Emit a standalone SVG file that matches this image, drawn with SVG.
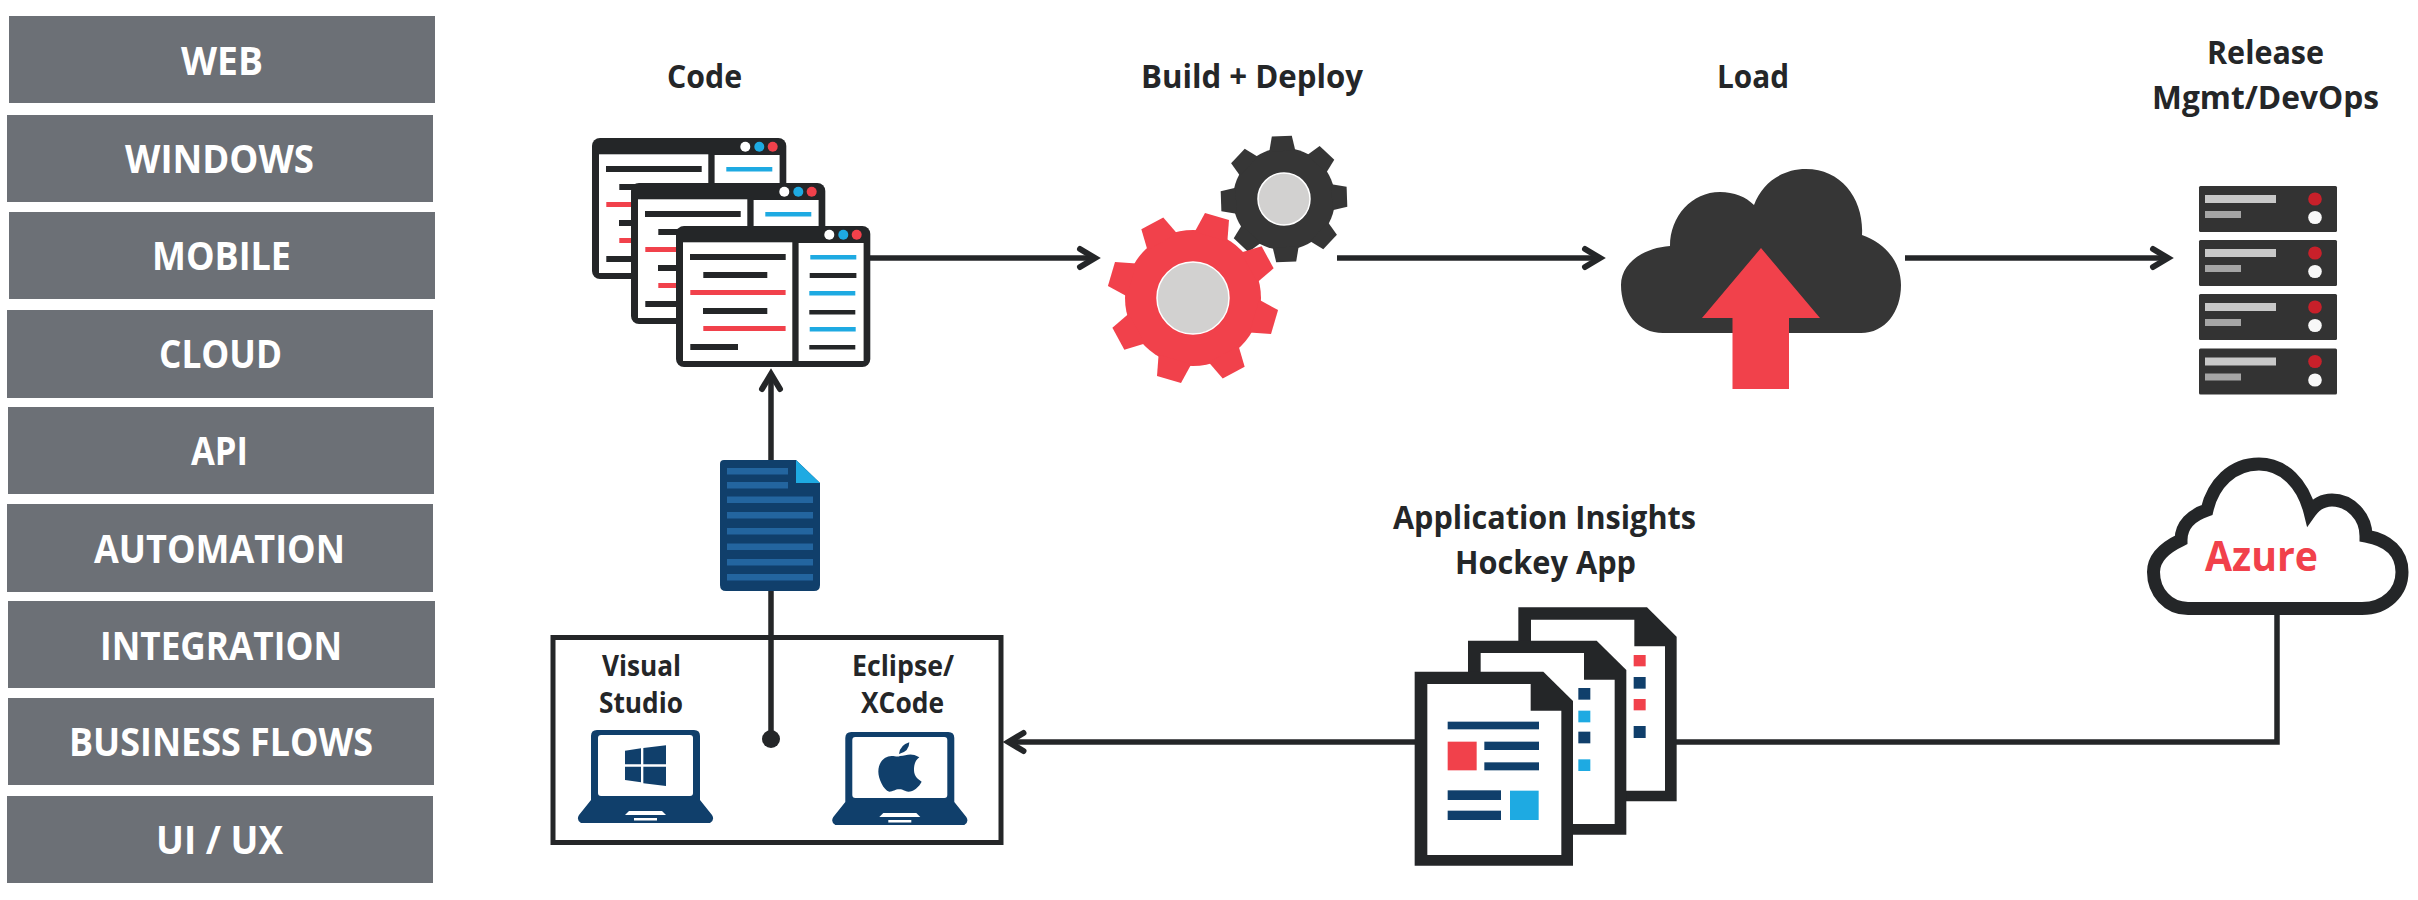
<svg xmlns="http://www.w3.org/2000/svg" width="2418" height="900" viewBox="0 0 2418 900">
<style>
text{font-family:"Open Sans","Noto Sans","Liberation Sans",sans-serif;font-weight:700;fill:#242628}
.tab rect{fill:#6c7076}
.tab text{fill:#fff;font-size:39px}
.head{font-size:32px}
.ide{font-size:28px}
.con{fill:none;stroke:#242628;stroke-width:5.5}
.gd{fill:#363636}
.gr{fill:#f1414b}
.hub{fill:#d2d1d0;stroke:#fff;stroke-width:1.5}
.dk{fill:#242628}
.wh{fill:#fff}
.bk{fill:#242628}
.rd{fill:#f1414b}
.bl{fill:#1eaae2}
.nv{fill:#103f6b}
.st{fill:#23659f}
</style>
<defs>
<marker id="chev" markerUnits="userSpaceOnUse" viewBox="-30 -16 40 32" markerWidth="40" markerHeight="32" refX="0" refY="0" orient="auto" overflow="visible">
<path d="M-15 -9 L0 0 L-15 9" fill="none" stroke="#242628" stroke-width="6" stroke-linecap="round"/>
</marker>
<g id="win">
<rect width="194.3" height="141" rx="8" class="dk"/>
<rect x="7" y="16.3" width="109.3" height="118.7" class="wh"/>
<rect x="122.6" y="17" width="65" height="118" class="wh"/>
<circle cx="153.3" cy="8.7" r="5" class="wh"/><circle cx="167.3" cy="8.7" r="5" class="bl"/><circle cx="180.7" cy="8.7" r="5" class="rd"/>
<rect x="14" y="28" width="95.7" height="6" class="bk"/>
<rect x="27.3" y="46" width="64" height="6" class="bk"/>
<rect x="14.3" y="64" width="95.3" height="5" class="rd"/>
<rect x="27" y="82" width="64.3" height="6" class="bk"/>
<rect x="27.3" y="100" width="82.3" height="5" class="rd"/>
<rect x="14.3" y="118" width="47.7" height="6" class="bk"/>
<rect x="134.3" y="29" width="46" height="4.5" class="bl"/>
<rect x="133.7" y="47" width="46.7" height="5" class="bk"/>
<rect x="133.3" y="65" width="46" height="4.5" class="bl"/>
<rect x="133.3" y="84" width="46" height="4.5" class="bk"/>
<rect x="133.7" y="101" width="46" height="4.5" class="bl"/>
<rect x="133.3" y="119" width="46" height="4.5" class="bk"/>
</g>
<polygon id="rt" points="-17,-64 -12.5,-85 12.5,-85 17,-64" class="gr"/>
<polygon id="dt" points="-13,-48 -10,-63 10,-63 13,-48" class="gd"/>
<g id="srv">
<rect width="138" height="46" rx="1.5" fill="#333"/>
<rect x="6" y="9" width="71" height="8" fill="#c8c8c8"/>
<rect x="6" y="25" width="36" height="7" fill="#a5a5a5"/>
<ellipse cx="116" cy="13" rx="6.8" ry="6.6" fill="#c8202a"/>
<ellipse cx="116" cy="31.5" rx="6.8" ry="6.6" fill="#f8f8f8"/>
</g>
<g id="lap">
<path d="M591 736Q591 730 597 730L694 730Q700 730 700 736L700 800L712 815Q715 820 710 823L581 823Q576 820 579 815L591 800Z" class="nv"/>
<rect x="598" y="735" width="95" height="61" rx="3" class="wh"/>
<polygon points="629,811 662,811 666,815 625,815" class="wh"/>
<rect x="634" y="818" width="23" height="2.5" class="wh"/>
</g>
<g id="doc">
<polygon points="44,215 430,215 519,303 519,797 44,797" class="dk"/>
<polygon points="82,252 392,252 392,332 484,332 484,765 82,765" class="wh"/>
</g>
</defs>

<g id="connectors">
<path class="con" d="M771 740V374" marker-end="url(#chev)"/>
<path class="con" d="M870 258H1095" marker-end="url(#chev)"/>
<path class="con" d="M1337 258H1600" marker-end="url(#chev)"/>
<path class="con" d="M1905 258H2168" marker-end="url(#chev)"/>
<path class="con" d="M1420 742H1008.500" marker-end="url(#chev)"/>
<path class="con" d="M2277 613V742H1670"/>
<circle cx="771" cy="739" r="9" class="dk"/>
</g>

<g id="tab-web" class="tab"><rect x="9" y="16" width="426" height="87"/><text x="181" y="75" textLength="82" lengthAdjust="spacingAndGlyphs">WEB</text></g>
<g id="tab-windows" class="tab"><rect x="7" y="115" width="426" height="87"/><text x="125" y="173" textLength="189" lengthAdjust="spacingAndGlyphs">WINDOWS</text></g>
<g id="tab-mobile" class="tab"><rect x="9" y="212" width="426" height="87"/><text x="152" y="270" textLength="139" lengthAdjust="spacingAndGlyphs">MOBILE</text></g>
<g id="tab-cloud" class="tab"><rect x="7" y="310" width="426" height="88"/><text x="159" y="368" textLength="123" lengthAdjust="spacingAndGlyphs">CLOUD</text></g>
<g id="tab-api" class="tab"><rect x="8" y="407" width="426" height="87"/><text x="191" y="465" textLength="57" lengthAdjust="spacingAndGlyphs">API</text></g>
<g id="tab-automation" class="tab"><rect x="7" y="504" width="426" height="88"/><text x="94" y="563" textLength="251" lengthAdjust="spacingAndGlyphs">AUTOMATION</text></g>
<g id="tab-integration" class="tab"><rect x="8" y="601" width="427" height="87"/><text x="100" y="660" textLength="242" lengthAdjust="spacingAndGlyphs">INTEGRATION</text></g>
<g id="tab-business" class="tab"><rect x="8" y="698" width="426" height="87"/><text x="69" y="756" textLength="304" lengthAdjust="spacingAndGlyphs">BUSINESS FLOWS</text></g>
<g id="tab-uiux" class="tab"><rect x="7" y="796" width="426" height="87"/><text x="156" y="854" textLength="127" lengthAdjust="spacingAndGlyphs">UI / UX</text></g>

<g id="code">
<text class="head" x="667" y="88" textLength="75" lengthAdjust="spacingAndGlyphs">Code</text>
<use href="#win" x="592" y="138"/>
<use href="#win" x="631" y="183"/>
<use href="#win" x="676" y="226"/>
</g>

<g id="build">
<text class="head" x="1141" y="88" textLength="222" lengthAdjust="spacingAndGlyphs">Build + Deploy</text>
<g id="gear-dark">
<circle cx="1284" cy="199" r="51" class="gd"/>
<use href="#dt" transform="translate(1284 199) rotate(-2)"/>
<use href="#dt" transform="translate(1284 199) rotate(43)"/>
<use href="#dt" transform="translate(1284 199) rotate(88)"/>
<use href="#dt" transform="translate(1284 199) rotate(133)"/>
<use href="#dt" transform="translate(1284 199) rotate(178)"/>
<use href="#dt" transform="translate(1284 199) rotate(223)"/>
<use href="#dt" transform="translate(1284 199) rotate(268)"/>
<use href="#dt" transform="translate(1284 199) rotate(313)"/>
<circle cx="1284" cy="199" r="26" class="hub"/>
</g>
<g id="gear-red">
<circle cx="1193" cy="298" r="68" class="gr"/>
<use href="#rt" transform="translate(1193 298) rotate(16.4)"/>
<use href="#rt" transform="translate(1193 298) rotate(61.4)"/>
<use href="#rt" transform="translate(1193 298) rotate(106.4)"/>
<use href="#rt" transform="translate(1193 298) rotate(151.4)"/>
<use href="#rt" transform="translate(1193 298) rotate(196.4)"/>
<use href="#rt" transform="translate(1193 298) rotate(241.4)"/>
<use href="#rt" transform="translate(1193 298) rotate(286.4)"/>
<use href="#rt" transform="translate(1193 298) rotate(331.4)"/>
<circle cx="1193" cy="298" r="36" class="hub"/>
</g>
</g>

<g id="load">
<text class="head" x="1717" y="88" textLength="72" lengthAdjust="spacingAndGlyphs">Load</text>
<path class="gd" d="M1663 333L1861 333C1885 333 1901 312 1901 285C1901 262 1885 243 1862 235C1864 200 1842 169 1806 169C1782 169 1762 183 1754 205C1746 197 1734 192 1720 192C1692 192 1670 216 1670 246C1642 248 1621 264 1621 285C1621 312 1638 333 1663 333Z"/>
<polygon class="gr" points="1761,248 1820,318 1789,318 1789,389 1732.500,389 1732.500,318 1702,318"/>
</g>

<g id="release">
<text class="head" x="2207" y="64" textLength="117" lengthAdjust="spacingAndGlyphs">Release</text>
<text class="head" x="2152" y="109" textLength="227" lengthAdjust="spacingAndGlyphs">Mgmt/DevOps</text>
<use href="#srv" x="2199" y="186"/>
<use href="#srv" x="2199" y="240"/>
<use href="#srv" x="2199" y="294"/>
<use href="#srv" x="2199" y="348.500"/>
</g>

<g id="file">
<path class="nv" d="M724 460H796L820 483V585Q820 591 814 591H726Q720 591 720 585V464Q720 460 724 460Z"/>
<polygon class="bl" points="796,460 796,483 820,483"/>
<rect class="st" x="727" y="468" width="61" height="6.500"/>
<rect class="st" x="727" y="482" width="61" height="6.500"/>
<rect class="st" x="727" y="496.500" width="86" height="6.500"/>
<rect class="st" x="727" y="512" width="86" height="6.500"/>
<rect class="st" x="727" y="528" width="86" height="6.500"/>
<rect class="st" x="727" y="543.500" width="86" height="6.500"/>
<rect class="st" x="727" y="559" width="86" height="6.500"/>
<rect class="st" x="727" y="574" width="86" height="6.500"/>
</g>

<g id="ide-box">
<rect x="553" y="637.500" width="448" height="205" fill="none" stroke="#242628" stroke-width="5"/>
<text class="ide" x="602" y="676" textLength="79" lengthAdjust="spacingAndGlyphs">Visual</text>
<text class="ide" x="599" y="713" textLength="84" lengthAdjust="spacingAndGlyphs">Studio</text>
<text class="ide" x="852" y="676" textLength="102" lengthAdjust="spacingAndGlyphs">Eclipse/</text>
<text class="ide" x="861" y="713" textLength="83" lengthAdjust="spacingAndGlyphs">XCode</text>
<use href="#lap"/>
<g transform="translate(560 630) scale(.33333)" class="nv">
<polygon points="195,362 243,355 243,403 195,403"/>
<polygon points="250,354 318,346 318,403 250,403"/>
<polygon points="195,410 243,410 243,457 195,450"/>
<polygon points="250,410 318,410 318,468 250,460"/>
</g>
<use href="#lap" x="254.300" y="2"/>
<g transform="translate(560 630) scale(.33333)" class="nv">
<path d="M1017 372Q1020 345 1048 337Q1048 365 1017 372Z"/>
<path d="M1020 378C1040 378 1050 365 1078 382C1065 392 1062 405 1062 420C1062 440 1075 448 1085 455C1078 470 1060 485 1045 485C1035 485 1030 478 1018 478C1005 478 1000 485 988 485C970 480 955 445 955 425C955 395 975 378 995 378C1005 378 1012 382 1020 378Z"/>
</g>
</g>

<g id="insights">
<text class="head" x="1393" y="529" textLength="303" lengthAdjust="spacingAndGlyphs">Application Insights</text>
<text class="head" x="1455" y="574" textLength="181" lengthAdjust="spacingAndGlyphs">Hockey App</text>
<g transform="translate(1400 600) scale(.33333)">
<use href="#doc" x="311" y="-193"/>
<rect class="rd" x="701" y="165" width="36" height="34"/>
<rect class="nv" x="701" y="231" width="36" height="35"/>
<rect class="rd" x="701" y="297" width="36" height="34"/>
<rect class="nv" x="701" y="378" width="36" height="36"/>
<use href="#doc" x="160" y="-93"/>
<rect class="nv" x="535" y="264" width="36" height="35"/>
<rect class="bl" x="535" y="332" width="36" height="35"/>
<rect class="nv" x="535" y="395" width="36" height="35"/>
<rect class="bl" x="535" y="478" width="36" height="35"/>
<use href="#doc"/>
<rect class="nv" x="143" y="365" width="274" height="23"/>
<rect class="rd" x="143" y="425" width="87" height="86"/>
<rect class="nv" x="253" y="425" width="164" height="25"/>
<rect class="nv" x="253" y="487" width="164" height="24"/>
<rect class="nv" x="143" y="571" width="160" height="29"/>
<rect class="nv" x="143" y="632" width="160" height="28"/>
<rect class="bl" x="330" y="572" width="86" height="88"/>
</g>
</g>

<g id="azure">
<path d="M2188 608.500L2362 608.500C2386 608.500 2402 592 2402 572C2402 552 2388 540 2366 536C2366 516 2350 500 2332 500C2322 500 2315 505 2310 512C2303 484 2284 464 2259 464C2232 464 2213 484 2207 510C2192 515 2181 525 2181 540C2164 548 2153.500 558 2153.500 572C2153.500 592 2168 608.500 2188 608.500Z" fill="#fff" stroke="#242628" stroke-width="13"/>
<text x="2205" y="571" font-size="42" textLength="113" lengthAdjust="spacingAndGlyphs" style="fill:#f1414b">Azure</text>
</g>
</svg>
